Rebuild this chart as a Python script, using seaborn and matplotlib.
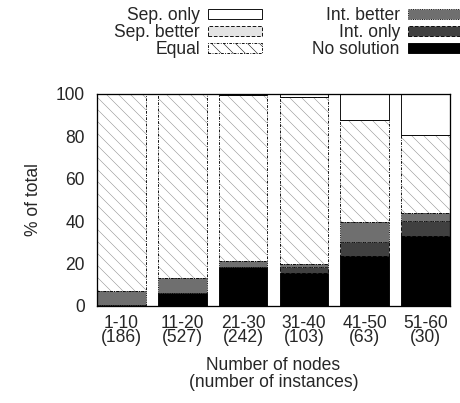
import numpy as np
import pandas as pd
import seaborn as sns
import matplotlib.pyplot as plt
from matplotlib.patches import Patch

# node-count groups and number of instances in each
groups = ["1-10", "11-20", "21-30", "31-40", "41-50", "51-60"]
instances = [186, 527, 242, 103, 63, 30]

# percentage of instances per outcome, bottom to top of each bar
no_solution = [0.5, 6.3, 18.3, 15.8, 23.7, 33.2]
int_only = [0.0, 0.0, 0.0, 2.5, 6.3, 6.8]
int_better = [6.6, 7.1, 3.0, 1.7, 9.8, 3.7]
equal = [92.9, 86.6, 78.4, 78.4, 47.9, 36.9]
sep_better = [0.0, 0.0, 0.0, 0.0, 0.0, 0.0]
sep_only = [0.0, 0.0, 0.3, 1.6, 12.3, 19.4]

sns.set_style("white")
plt.rcParams['font.family'] = ['Liberation Sans', 'DejaVu Sans']
plt.rcParams['hatch.linewidth'] = 0.5

fs = 17.5
fig = plt.figure(figsize=(460 / 72, 403 / 72), dpi=72)
ax = fig.add_axes([97 / 460, 97 / 403, 353 / 460, 212 / 403])

df = pd.DataFrame({"group": groups})

# (label, values, face, edge linestyle, hatch)
layers = [
    ("No solution", no_solution, "black", "-", None),
    ("Int. only", int_only, "#404040", (0, (4, 2)), None),
    ("Int. better", int_better, "#6f6f6f", (0, (1, 1.5)), None),
    ("Equal", equal, "white", (0, (3, 1.5, 1, 1.5)), "\\\\"),
    ("Sep. better", sep_better, "#e4e4e4", (0, (4, 2)), None),
    ("Sep. only", sep_only, "white", "-", None),
]

bottom = np.zeros(len(groups))
for label, vals, face, ls, hatch in layers:
    df["v"] = vals
    if hatch:
        # hatch drawn in grey, outline drawn separately
        sns.barplot(data=df, x="group", y="v", order=groups, color=face,
                    saturation=1, bottom=bottom, hatch=hatch,
                    edgecolor="#8a8a8a", linewidth=0, ax=ax)
    sns.barplot(data=df, x="group", y="v", order=groups, color=face,
                saturation=1, bottom=bottom, fill=not hatch,
                edgecolor="black", linewidth=0.9, linestyle=ls, ax=ax)
    bottom = bottom + np.array(vals)

ax.set_xlim(-0.4, 5.4)
ax.set_ylim(0, 100)
ax.set_yticks(range(0, 101, 20))
ax.set_xticks(range(len(groups)))
ax.set_xticklabels([f"{g}\n({n})" for g, n in zip(groups, instances)],
                   fontsize=fs, linespacing=0.8)
ax.tick_params(axis="y", direction="in", length=4, pad=12, labelsize=fs)
ax.tick_params(axis="x", length=0, pad=9)
ax.set_xlabel("Number of nodes\n(number of instances)", fontsize=fs,
              labelpad=11, linespacing=1.0)
ax.set_ylabel("% of total", fontsize=fs, labelpad=14)
for s in ax.spines.values():
    s.set_color("black")
    s.set_linewidth(1.3)

def handle(label):
    for lab, vals, face, ls, hatch in layers:
        if lab == label:
            return Patch(facecolor=face, edgecolor="black", linestyle=ls,
                         linewidth=0.9, hatch=hatch, label=lab)

leg_kw = dict(frameon=False, markerfirst=False, fontsize=fs, handlelength=3.1,
              handleheight=0.5, handletextpad=0.45, labelspacing=0.0,
              borderpad=0, borderaxespad=0, loc="upper right")
fig.legend(handles=[handle(l) for l in ["Sep. only", "Sep. better", "Equal"]],
           bbox_to_anchor=(262 / 460, 1 - 7 / 403), **leg_kw)
fig.legend(handles=[handle(l) for l in ["Int. better", "Int. only", "No solution"]],
           bbox_to_anchor=(462 / 460, 1 - 7 / 403), **leg_kw)

fig.savefig("out.png", dpi=72)
